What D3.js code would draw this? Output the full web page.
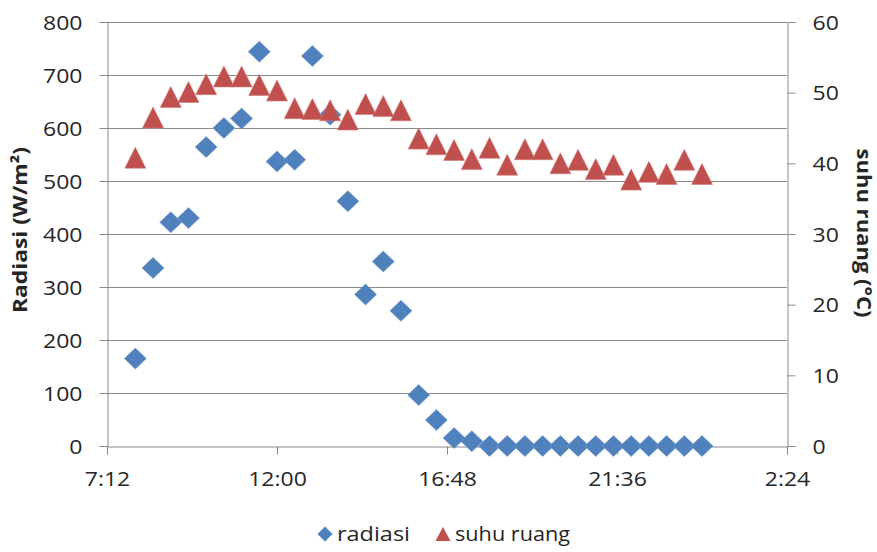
<!DOCTYPE html>
<html><head><meta charset="utf-8">
<script src="https://cdn.jsdelivr.net/npm/d3@7"></script>
<style>
body{margin:0;background:#fff}
svg{display:block}
text{font-family:"Open Sans",sans-serif;fill:#262626}
</style>
</head><body>
<svg id="chart" width="877" height="552"></svg>
<script>
// ---- data ----
const times = ["8:00","8:30","9:00","9:30","10:00","10:30","11:00","11:30","12:00","12:30",
  "13:00","13:30","14:00","14:30","15:00","15:30","16:00","16:30","17:00","17:30",
  "18:00","18:30","19:00","19:30","20:00","20:30","21:00","21:30","22:00","22:30",
  "23:00","23:30","0:00"];
const radiasi = [165,336,422,430,564,600,618,744,537,540,
  736,625,462,286,348,255,96,49,15,9,
  0,0,0,0,0,0,0,0,0,0,
  0,0,0];
const suhuRuang = [40.8,46.5,49.4,50.1,51.2,52.3,52.3,51.1,50.3,47.8,
  47.7,47.5,46.2,48.4,48.1,47.5,43.5,42.7,41.9,40.6,
  42.2,39.8,42.0,42.0,40.0,40.5,39.2,39.8,37.7,38.8,
  38.5,40.5,38.5];
const xTickLabels = ["7:12","12:00","16:48","21:36","2:24"];
const leftTicks = [0,100,200,300,400,500,600,700,800];
const rightTicks = [0,10,20,30,40,50,60];
const seriesNames = ["radiasi","suhu ruang"];
const leftTitle = "Radiasi (W/m\u00B2)";
const rightTitle = "suhu ruang (\u00B0C)";

// ---- setup ----
const svg = d3.select("#chart");
const W = 877, H = 552;
const plot = {left:107, right:787, top:22, bottom:446};
const blue = "#4F81BD", red = "#C0504D", grid = "#8a8a8a";
const STRETCH = 1.18;

function parseT(s){
  const [h,m] = s.split(":").map(Number);
  const day = h < 7 ? 2 : 1;
  return new Date(2000,0,day,h,m);
}

const x = d3.scaleTime()
  .domain([parseT(xTickLabels[0]), parseT(xTickLabels[xTickLabels.length-1])])
  .range([plot.left, plot.right]);
const yL = d3.scaleLinear().domain([0,800]).range([plot.bottom, plot.top]);
const yR = d3.scaleLinear().domain([0,60]).range([plot.bottom, plot.top]);

function stretch(sel, k){
  sel.each(function(){
    const L = this.getComputedTextLength();
    this.setAttribute("textLength", L*k);
    this.setAttribute("lengthAdjust","spacingAndGlyphs");
  });
}

svg.append("rect").attr("width",W).attr("height",H).attr("fill","#fff");

// gridlines
svg.append("g").selectAll("line").data(leftTicks.filter(d=>d>0)).join("line")
  .attr("x1",plot.left).attr("x2",plot.right)
  .attr("y1",d=>Math.round(yL(d))+0.5).attr("y2",d=>Math.round(yL(d))+0.5)
  .attr("stroke",grid).attr("stroke-width",1);

function styleAxis(g){
  g.selectAll("path.domain").attr("stroke",grid);
  g.selectAll(".tick line").attr("stroke",grid);
  g.selectAll("text").style("font-size","19.5px").attr("fill","#262626");
}

// left axis
const gL = svg.append("g").attr("transform",`translate(${plot.left+0.5},0)`)
  .call(d3.axisLeft(yL).tickValues(leftTicks).tickSizeOuter(0).tickSize(8).tickPadding(17));
styleAxis(gL);
gL.selectAll("text").attr("dy","0.36em").call(stretch, STRETCH);

// right axis
const gR = svg.append("g").attr("transform",`translate(${plot.right+0.5},0)`)
  .call(d3.axisRight(yR).tickValues(rightTicks).tickSizeOuter(0).tickSize(8).tickPadding(17));
styleAxis(gR);
gR.selectAll("text").attr("dy","0.36em").call(stretch, STRETCH);

// bottom axis
const fmt = d3.timeFormat("%-H:%M");
const gB = svg.append("g").attr("transform",`translate(0,${plot.bottom+0.5})`)
  .call(d3.axisBottom(x).tickValues(xTickLabels.map(parseT)).tickFormat(fmt)
        .tickSizeOuter(0).tickSize(8).tickPadding(18));
styleAxis(gB);
gB.selectAll("text").call(stretch, STRETCH);

// custom marker shapes
const diamond = (w,h) => ({draw(ctx){
  ctx.moveTo(0,-h/2); ctx.lineTo(w/2,0); ctx.lineTo(0,h/2); ctx.lineTo(-w/2,0); ctx.closePath();
}});
const triangle = (w,h) => ({draw(ctx){
  ctx.moveTo(0,-h/2); ctx.lineTo(w/2,h/2); ctx.lineTo(-w/2,h/2); ctx.closePath();
}});

// series 1: radiasi (diamonds)
const rows = times.map((t,i)=>({t:parseT(t), r:radiasi[i], s:suhuRuang[i]}));
svg.append("g").selectAll("path").data(rows).join("path")
  .attr("d", d3.symbol().type(diamond(22,21)))
  .attr("transform", d=>`translate(${x(d.t)},${yL(d.r)})`)
  .attr("fill", blue).attr("stroke","#6f9ad0").attr("stroke-width",0.6);

// series 2: suhu ruang (triangles)
svg.append("g").selectAll("path").data(rows).join("path")
  .attr("d", d3.symbol().type(triangle(21,21)))
  .attr("transform", d=>`translate(${x(d.t)},${yR(d.s)})`)
  .attr("fill", red).attr("stroke","#d07a78").attr("stroke-width",0.6);

// axis titles
svg.append("text").attr("transform","translate(27,230) rotate(-90)")
  .attr("text-anchor","middle").style("font-size","20px").style("font-weight","bold")
  .attr("textLength",166).attr("lengthAdjust","spacingAndGlyphs")
  .text(leftTitle);
svg.append("text").attr("transform","translate(857,233) rotate(90)")
  .attr("text-anchor","middle").style("font-size","19px").style("font-weight","bold")
  .attr("textLength",169).attr("lengthAdjust","spacingAndGlyphs")
  .text(rightTitle);

// legend
const legend = svg.append("g");
const legItems = [
  {name:seriesNames[0], shape:diamond(15,15), color:blue, mx:325, tx:337, len:73},
  {name:seriesNames[1], shape:triangle(15,14), color:red, mx:443, tx:455, len:115}
];
legItems.forEach(it=>{
  legend.append("path").attr("d", d3.symbol().type(it.shape))
    .attr("transform",`translate(${it.mx},534)`).attr("fill",it.color);
  legend.append("text").attr("x",it.tx).attr("y",541).style("font-size","19.5px")
    .attr("textLength",it.len).attr("lengthAdjust","spacingAndGlyphs").text(it.name);
});
</script>
</body></html>
